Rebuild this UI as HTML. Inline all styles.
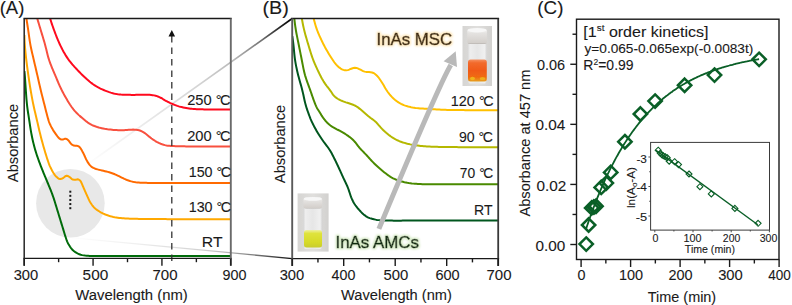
<!DOCTYPE html><html><head><meta charset="utf-8"><style>html,body{margin:0;padding:0;background:#fff;}svg{display:block;} text{font-family:"Liberation Sans", sans-serif;}</style></head><body>
<svg xmlns="http://www.w3.org/2000/svg" width="792" height="305" viewBox="0 0 792 305">
<defs>
<clipPath id="ca"><rect x="24.20" y="18.50" width="206.60" height="239.90"/></clipPath>
<clipPath id="cb"><rect x="292.20" y="18.50" width="206.00" height="240.10"/></clipPath>
<linearGradient id="gtop" gradientUnits="userSpaceOnUse" x1="85" y1="166" x2="292" y2="18.5"><stop offset="0" stop-color="#000" stop-opacity="0"/><stop offset="0.25" stop-color="#000" stop-opacity="0.07"/><stop offset="0.55" stop-color="#000" stop-opacity="0.17"/><stop offset="0.72" stop-color="#000" stop-opacity="0.28"/><stop offset="0.85" stop-color="#000" stop-opacity="0.55"/><stop offset="0.95" stop-color="#000" stop-opacity="0.88"/><stop offset="1" stop-color="#000" stop-opacity="1"/></linearGradient>
<linearGradient id="gbot" gradientUnits="userSpaceOnUse" x1="67" y1="237.5" x2="292" y2="258.6"><stop offset="0" stop-color="#000" stop-opacity="0"/><stop offset="0.3" stop-color="#000" stop-opacity="0.06"/><stop offset="0.6" stop-color="#000" stop-opacity="0.18"/><stop offset="0.72" stop-color="#000" stop-opacity="0.3"/><stop offset="0.87" stop-color="#000" stop-opacity="0.6"/><stop offset="1" stop-color="#000" stop-opacity="0.95"/></linearGradient>
<filter id="glowO" x="-10%" y="-30%" width="120%" height="160%"><feMorphology operator="dilate" radius="1.2" in="SourceAlpha" result="d"/><feGaussianBlur in="d" stdDeviation="1.0" result="b"/><feFlood flood-color="#fde6b8"/><feComposite in2="b" operator="in" result="g"/><feMerge><feMergeNode in="g"/><feMergeNode in="SourceGraphic"/></feMerge></filter>
<filter id="glowG" x="-10%" y="-30%" width="120%" height="160%"><feMorphology operator="dilate" radius="1.2" in="SourceAlpha" result="d"/><feGaussianBlur in="d" stdDeviation="1.0" result="b"/><feFlood flood-color="#d2e8c0"/><feComposite in2="b" operator="in" result="g"/><feMerge><feMergeNode in="g"/><feMergeNode in="SourceGraphic"/></feMerge></filter>
</defs>
<circle cx="70.4" cy="203.2" r="34.3" fill="#e8e8e8"/>
<line x1="85" y1="166" x2="292.2" y2="18.5" stroke="url(#gtop)" stroke-width="1.6"/>
<line x1="67.6" y1="237.4" x2="292.2" y2="258.6" stroke="url(#gbot)" stroke-width="1.35"/>
<g clip-path="url(#ca)" fill="none" stroke-width="2" stroke-linejoin="round">
<path d="M50.00,17.00 L49.94,17.51 L50.26,18.90 L50.68,20.31 L51.14,21.74 L51.60,23.16 L52.09,24.58 L52.58,26.00 L53.08,27.42 L53.59,28.84 L54.11,30.26 L54.64,31.67 L55.17,33.08 L55.70,34.48 L56.25,35.89 L56.80,37.29 L57.36,38.69 L57.94,40.08 L58.54,41.46 L59.15,42.84 L59.78,44.21 L60.42,45.57 L61.08,46.92 L61.75,48.27 L62.44,49.61 L63.15,50.94 L63.87,52.26 L64.62,53.56 L65.38,54.86 L66.18,56.14 L67.00,57.40 L67.84,58.64 L68.72,59.86 L69.63,61.06 L70.56,62.25 L71.51,63.41 L72.48,64.56 L73.47,65.69 L74.48,66.82 L75.50,67.93 L76.52,69.03 L77.56,70.12 L78.60,71.21 L79.65,72.29 L80.71,73.36 L81.77,74.43 L82.84,75.49 L83.92,76.54 L85.02,77.57 L86.12,78.59 L87.24,79.60 L88.38,80.58 L89.53,81.55 L90.71,82.50 L91.90,83.41 L93.11,84.30 L94.35,85.15 L95.62,85.96 L96.91,86.73 L98.22,87.46 L99.55,88.15 L100.91,88.80 L102.28,89.42 L103.66,90.01 L105.05,90.59 L106.45,91.14 L107.86,91.67 L109.28,92.17 L110.71,92.63 L112.15,93.05 L113.60,93.42 L115.07,93.74 L116.55,94.01 L118.03,94.23 L119.53,94.41 L121.02,94.55 L122.52,94.65 L124.03,94.73 L125.53,94.78 L127.04,94.82 L128.54,94.85 L130.05,94.87 L131.56,94.89 L133.06,94.89 L134.57,94.88 L136.07,94.87 L137.58,94.86 L139.09,94.83 L140.59,94.79 L142.10,94.76 L143.60,94.72 L145.11,94.70 L146.62,94.72 L148.12,94.75 L149.63,94.83 L151.13,94.97 L152.62,95.14 L154.11,95.37 L155.58,95.71 L157.01,96.16 L158.42,96.70 L159.79,97.32 L161.14,97.99 L162.45,98.74 L163.73,99.53 L165.02,100.31 L166.34,101.04 L167.67,101.74 L169.02,102.41 L170.38,103.05 L171.76,103.66 L173.14,104.25 L174.54,104.81 L175.95,105.36 L177.35,105.91 L178.78,106.38 L180.24,106.75 L181.71,107.08 L183.18,107.40 L184.66,107.70 L186.14,107.98 L187.62,108.24 L189.11,108.47 L190.60,108.67 L192.10,108.84 L193.60,108.97 L195.10,109.08 L196.60,109.16 L198.11,109.23 L199.61,109.28 L201.12,109.32 L202.63,109.35 L204.13,109.38 L205.64,109.41 L207.14,109.43 L208.65,109.45 L210.16,109.46 L211.66,109.47 L213.17,109.49 L214.68,109.50 L216.18,109.51 L217.69,109.52 L219.20,109.53 L220.70,109.54 L222.21,109.55 L223.71,109.56 L225.22,109.57 L226.73,109.57 L228.23,109.58 L229.74,109.59 L231.25,109.60 L232.00,109.60" stroke="#ff0a1e"/>
<path d="M37.00,17.00 L37.07,17.59 L37.43,18.99 L37.84,20.43 L38.27,21.87 L38.69,23.31 L39.12,24.75 L39.56,26.19 L39.99,27.64 L40.43,29.08 L40.86,30.52 L41.30,31.96 L41.74,33.41 L42.18,34.85 L42.62,36.29 L43.06,37.73 L43.49,39.18 L43.92,40.62 L44.34,42.07 L44.75,43.52 L45.14,44.97 L45.53,46.43 L45.90,47.89 L46.26,49.35 L46.61,50.82 L46.97,52.28 L47.33,53.75 L47.70,55.21 L48.09,56.66 L48.51,58.11 L48.95,59.55 L49.42,60.98 L49.92,62.40 L50.44,63.81 L50.99,65.21 L51.55,66.61 L52.12,68.01 L52.71,69.40 L53.29,70.78 L53.88,72.17 L54.47,73.56 L55.06,74.95 L55.64,76.34 L56.22,77.73 L56.80,79.12 L57.38,80.51 L57.97,81.90 L58.56,83.29 L59.16,84.67 L59.78,86.04 L60.41,87.41 L61.06,88.77 L61.72,90.12 L62.41,91.47 L63.10,92.80 L63.82,94.13 L64.54,95.45 L65.28,96.76 L66.03,98.07 L66.79,99.37 L67.56,100.67 L68.34,101.96 L69.14,103.23 L69.95,104.50 L70.79,105.75 L71.65,106.99 L72.54,108.20 L73.46,109.39 L74.42,110.54 L75.42,111.67 L76.45,112.77 L77.51,113.83 L78.60,114.87 L79.71,115.88 L80.85,116.87 L81.99,117.85 L83.14,118.82 L84.30,119.79 L85.47,120.74 L86.64,121.67 L87.84,122.57 L89.08,123.41 L90.36,124.18 L91.68,124.87 L93.04,125.49 L94.43,126.05 L95.84,126.55 L97.27,127.01 L98.72,127.44 L100.17,127.83 L101.63,128.17 L103.10,128.48 L104.58,128.76 L106.07,129.00 L107.56,129.23 L109.05,129.42 L110.55,129.60 L112.05,129.76 L113.55,129.90 L115.05,130.02 L116.55,130.11 L118.06,130.17 L119.56,130.20 L121.07,130.20 L122.57,130.18 L124.08,130.14 L125.58,130.06 L127.09,129.95 L128.59,129.82 L130.09,129.72 L131.60,129.65 L133.10,129.62 L134.61,129.65 L136.11,129.78 L137.60,129.98 L139.08,130.30 L140.51,130.76 L141.88,131.38 L143.20,132.11 L144.47,132.91 L145.71,133.77 L146.90,134.69 L148.06,135.66 L149.20,136.64 L150.37,137.59 L151.58,138.50 L152.80,139.37 L154.05,140.22 L155.32,141.02 L156.63,141.78 L157.96,142.49 L159.32,143.14 L160.70,143.73 L162.11,144.26 L163.54,144.73 L165.00,145.13 L166.47,145.44 L167.96,145.67 L169.46,145.81 L170.96,145.92 L172.47,146.02 L173.97,146.10 L175.48,146.17 L176.98,146.22 L178.49,146.26 L180.00,146.30 L181.51,146.33 L183.01,146.35 L184.52,146.37 L186.03,146.39 L187.53,146.41 L189.04,146.42 L190.55,146.44 L192.06,146.45 L193.56,146.46 L195.07,146.47 L196.58,146.48 L198.09,146.49 L199.59,146.50 L201.10,146.50 L202.61,146.50 L204.11,146.51 L205.62,146.51 L207.13,146.51 L208.64,146.51 L210.14,146.51 L211.65,146.51 L213.16,146.51 L214.67,146.51 L216.17,146.51 L217.68,146.51 L219.19,146.51 L220.70,146.51 L222.20,146.51 L223.71,146.51 L225.22,146.51 L226.72,146.50 L228.23,146.50 L229.74,146.50 L231.25,146.50 L232.00,146.50" stroke="#f8503f"/>
<path d="M26.30,17.00 L26.34,17.62 L26.53,19.08 L26.75,20.55 L26.98,22.03 L27.20,23.51 L27.43,25.00 L27.66,26.48 L27.88,27.97 L28.10,29.46 L28.32,30.95 L28.53,32.44 L28.74,33.92 L28.95,35.41 L29.16,36.90 L29.37,38.39 L29.59,39.88 L29.82,41.36 L30.07,42.85 L30.33,44.33 L30.60,45.81 L30.89,47.28 L31.20,48.75 L31.52,50.22 L31.85,51.69 L32.19,53.15 L32.53,54.62 L32.87,56.08 L33.22,57.55 L33.56,59.01 L33.91,60.47 L34.25,61.94 L34.59,63.40 L34.93,64.87 L35.28,66.33 L35.62,67.79 L35.96,69.26 L36.30,70.72 L36.64,72.19 L36.98,73.65 L37.32,75.12 L37.65,76.58 L37.98,78.05 L38.32,79.52 L38.64,80.98 L38.97,82.45 L39.31,83.92 L39.64,85.38 L39.98,86.85 L40.32,88.31 L40.66,89.78 L41.02,91.24 L41.37,92.70 L41.74,94.16 L42.10,95.62 L42.47,97.08 L42.84,98.53 L43.21,99.99 L43.59,101.45 L43.96,102.90 L44.33,104.36 L44.70,105.82 L45.07,107.28 L45.43,108.73 L45.80,110.19 L46.17,111.65 L46.54,113.11 L46.91,114.56 L47.30,116.02 L47.70,117.46 L48.13,118.90 L48.55,120.35 L49.00,121.78 L49.52,123.18 L50.13,124.56 L50.79,125.91 L51.48,127.24 L52.21,128.56 L52.96,129.86 L53.76,131.14 L54.60,132.38 L55.47,133.61 L56.36,134.82 L57.23,136.04 L58.14,137.24 L59.17,138.33 L60.40,139.17 L61.81,139.59 L63.26,139.39 L64.65,138.86 L66.08,138.79 L67.38,139.45 L68.49,140.46 L69.39,141.65 L70.26,142.88 L71.27,143.99 L72.41,144.95 L73.76,145.55 L75.24,145.66 L76.73,145.72 L78.17,146.11 L79.42,146.90 L80.38,148.04 L81.17,149.31 L81.93,150.61 L82.66,151.93 L83.37,153.25 L84.04,154.60 L84.66,155.97 L85.26,157.35 L85.88,158.72 L86.54,160.06 L87.27,161.38 L88.05,162.67 L88.89,163.91 L89.82,165.09 L90.87,166.17 L92.05,167.09 L93.35,167.84 L94.72,168.45 L96.13,168.97 L97.57,169.40 L99.02,169.78 L100.49,170.12 L101.95,170.46 L103.42,170.80 L104.88,171.16 L106.33,171.52 L107.79,171.90 L109.24,172.31 L110.67,172.74 L112.10,173.21 L113.50,173.72 L114.89,174.29 L116.26,174.90 L117.62,175.54 L118.96,176.20 L120.31,176.87 L121.65,177.54 L123.00,178.20 L124.36,178.85 L125.73,179.46 L127.11,180.03 L128.52,180.54 L129.94,180.99 L131.39,181.38 L132.85,181.71 L134.32,181.98 L135.80,182.21 L137.29,182.40 L138.78,182.54 L140.28,182.66 L141.78,182.74 L143.28,182.80 L144.79,182.84 L146.29,182.86 L147.79,182.88 L149.30,182.89 L150.80,182.90 L152.30,182.91 L153.81,182.91 L155.31,182.92 L156.81,182.92 L158.32,182.92 L159.82,182.93 L161.33,182.93 L162.83,182.93 L164.33,182.93 L165.84,182.93 L167.34,182.93 L168.84,182.93 L170.35,182.93 L171.85,182.93 L173.36,182.92 L174.86,182.92 L176.36,182.92 L177.87,182.92 L179.37,182.92 L180.87,182.92 L182.38,182.92 L183.88,182.91 L185.38,182.91 L186.89,182.91 L188.39,182.91 L189.90,182.91 L191.40,182.91 L192.90,182.90 L194.41,182.90 L195.91,182.90 L197.41,182.90 L198.92,182.90 L200.42,182.90 L201.93,182.90 L203.43,182.90 L204.93,182.90 L206.44,182.90 L207.94,182.90 L209.44,182.90 L210.95,182.90 L212.45,182.90 L213.96,182.90 L215.46,182.90 L216.96,182.90 L218.47,182.90 L219.97,182.90 L221.47,182.90 L222.98,182.90 L224.48,182.90 L225.99,182.90 L227.49,182.90 L228.99,182.90 L230.50,182.90 L232.00,182.90" stroke="#ff6a00"/>
<path d="M24.40,35.00 L24.42,35.75 L24.47,37.25 L24.51,38.76 L24.57,40.26 L24.64,41.76 L24.73,43.26 L24.83,44.76 L24.94,46.26 L25.06,47.76 L25.19,49.26 L25.33,50.76 L25.48,52.25 L25.63,53.75 L25.79,55.25 L25.95,56.74 L26.11,58.24 L26.28,59.73 L26.46,61.22 L26.64,62.72 L26.83,64.21 L27.02,65.70 L27.22,67.19 L27.42,68.68 L27.62,70.17 L27.83,71.66 L28.04,73.15 L28.25,74.64 L28.47,76.13 L28.68,77.62 L28.90,79.11 L29.12,80.59 L29.35,82.08 L29.57,83.57 L29.81,85.05 L30.04,86.54 L30.28,88.02 L30.53,89.51 L30.78,90.99 L31.04,92.47 L31.30,93.95 L31.56,95.43 L31.83,96.91 L32.11,98.39 L32.39,99.87 L32.68,101.34 L32.97,102.82 L33.28,104.29 L33.59,105.76 L33.91,107.23 L34.24,108.70 L34.57,110.17 L34.91,111.63 L35.26,113.09 L35.60,114.56 L35.95,116.02 L36.30,117.48 L36.64,118.95 L36.99,120.41 L37.33,121.88 L37.66,123.34 L38.00,124.81 L38.34,126.28 L38.68,127.74 L39.02,129.21 L39.36,130.67 L39.71,132.13 L40.07,133.59 L40.43,135.05 L40.80,136.51 L41.18,137.97 L41.56,139.42 L41.95,140.87 L42.34,142.32 L42.74,143.77 L43.15,145.22 L43.55,146.67 L43.97,148.12 L44.39,149.56 L44.81,151.00 L45.24,152.45 L45.68,153.88 L46.12,155.32 L46.57,156.76 L47.03,158.19 L47.50,159.62 L47.99,161.04 L48.47,162.46 L48.98,163.88 L49.52,165.28 L50.12,166.66 L50.79,168.00 L51.48,169.34 L52.17,170.68 L52.89,172.00 L53.65,173.29 L54.49,174.54 L55.40,175.73 L56.42,176.84 L57.54,177.84 L58.78,178.67 L60.18,179.10 L61.61,178.84 L62.93,178.14 L64.13,177.24 L65.27,176.28 L66.61,175.77 L68.02,176.08 L69.32,176.83 L70.46,177.80 L71.56,178.82 L72.84,179.57 L74.29,179.86 L75.77,179.74 L77.19,179.35 L78.61,179.51 L79.86,180.30 L80.79,181.46 L81.46,182.79 L82.05,184.18 L82.65,185.56 L83.23,186.94 L83.82,188.33 L84.41,189.71 L85.01,191.09 L85.62,192.46 L86.25,193.83 L86.87,195.20 L87.49,196.57 L88.10,197.95 L88.73,199.31 L89.39,200.66 L90.10,201.99 L90.87,203.28 L91.69,204.54 L92.56,205.77 L93.53,206.91 L94.59,207.97 L95.73,208.94 L96.93,209.84 L98.16,210.69 L99.41,211.51 L100.70,212.27 L102.02,212.98 L103.36,213.63 L104.74,214.23 L106.13,214.79 L107.54,215.30 L108.96,215.77 L110.40,216.19 L111.86,216.57 L113.32,216.91 L114.79,217.21 L116.27,217.47 L117.75,217.70 L119.24,217.90 L120.73,218.06 L122.23,218.20 L123.73,218.32 L125.23,218.43 L126.73,218.51 L128.23,218.59 L129.73,218.65 L131.24,218.70 L132.74,218.75 L134.24,218.79 L135.75,218.82 L137.25,218.85 L138.75,218.88 L140.26,218.90 L141.76,218.92 L143.27,218.95 L144.77,218.97 L146.27,218.99 L147.78,219.01 L149.28,219.03 L150.79,219.04 L152.29,219.05 L153.79,219.06 L155.30,219.07 L156.80,219.08 L158.31,219.09 L159.81,219.10 L161.31,219.10 L162.82,219.11 L164.32,219.12 L165.82,219.12 L167.33,219.13 L168.83,219.13 L170.34,219.14 L171.84,219.14 L173.34,219.15 L174.85,219.15 L176.35,219.16 L177.86,219.16 L179.36,219.16 L180.86,219.17 L182.37,219.17 L183.87,219.18 L185.38,219.18 L186.88,219.19 L188.38,219.19 L189.89,219.19 L191.39,219.20 L192.90,219.20 L194.40,219.21 L195.90,219.21 L197.41,219.21 L198.91,219.22 L200.42,219.22 L201.92,219.22 L203.42,219.23 L204.93,219.23 L206.43,219.24 L207.94,219.24 L209.44,219.24 L210.94,219.25 L212.45,219.25 L213.95,219.25 L215.46,219.26 L216.96,219.26 L218.46,219.27 L219.97,219.27 L221.47,219.27 L222.98,219.28 L224.48,219.28 L225.98,219.28 L227.49,219.29 L228.99,219.29 L230.50,219.30 L232.00,219.30" stroke="#ffa800"/>
<path d="M24.40,71.00 L24.49,71.75 L24.64,73.25 L24.76,74.75 L24.87,76.25 L24.98,77.75 L25.08,79.25 L25.18,80.76 L25.28,82.26 L25.38,83.76 L25.48,85.26 L25.58,86.77 L25.68,88.27 L25.79,89.77 L25.89,91.27 L26.00,92.78 L26.10,94.28 L26.21,95.78 L26.32,97.28 L26.44,98.78 L26.57,100.28 L26.71,101.78 L26.85,103.28 L27.02,104.78 L27.19,106.27 L27.38,107.77 L27.58,109.26 L27.78,110.75 L28.00,112.24 L28.23,113.73 L28.45,115.22 L28.68,116.71 L28.91,118.20 L29.14,119.68 L29.37,121.17 L29.59,122.66 L29.82,124.15 L30.04,125.64 L30.27,127.13 L30.51,128.62 L30.75,130.10 L31.00,131.59 L31.27,133.07 L31.55,134.55 L31.84,136.02 L32.14,137.50 L32.46,138.97 L32.78,140.44 L33.12,141.91 L33.47,143.37 L33.84,144.83 L34.21,146.29 L34.61,147.75 L35.01,149.19 L35.44,150.64 L35.88,152.08 L36.33,153.51 L36.80,154.94 L37.28,156.37 L37.78,157.79 L38.28,159.21 L38.79,160.63 L39.31,162.04 L39.84,163.45 L40.37,164.86 L40.91,166.27 L41.46,167.67 L42.01,169.07 L42.58,170.47 L43.14,171.86 L43.71,173.26 L44.29,174.65 L44.86,176.04 L45.44,177.43 L46.02,178.82 L46.59,180.21 L47.17,181.60 L47.75,182.99 L48.33,184.38 L48.91,185.77 L49.48,187.17 L50.06,188.56 L50.62,189.95 L51.17,191.35 L51.72,192.76 L52.24,194.17 L52.75,195.59 L53.25,197.01 L53.73,198.43 L54.20,199.87 L54.65,201.30 L55.10,202.74 L55.54,204.18 L55.98,205.62 L56.41,207.06 L56.85,208.50 L57.29,209.94 L57.73,211.38 L58.17,212.82 L58.61,214.26 L59.05,215.70 L59.49,217.14 L59.93,218.58 L60.37,220.02 L60.81,221.46 L61.25,222.90 L61.70,224.34 L62.14,225.78 L62.58,227.22 L63.02,228.66 L63.46,230.10 L63.89,231.54 L64.33,232.99 L64.77,234.43 L65.22,235.86 L65.68,237.30 L66.16,238.73 L66.66,240.15 L67.21,241.55 L67.83,242.92 L68.55,244.24 L69.33,245.53 L70.13,246.80 L71.00,248.03 L71.95,249.20 L72.99,250.29 L74.11,251.29 L75.33,252.17 L76.62,252.95 L77.95,253.64 L79.33,254.24 L80.75,254.73 L82.21,255.11 L83.69,255.37 L85.19,255.56 L86.69,255.70 L88.19,255.81 L89.69,255.90 L91.20,255.97 L92.70,256.03 L94.21,256.07 L95.71,256.08 L97.22,256.09 L98.72,256.09 L100.23,256.10 L101.73,256.10 L103.24,256.10 L104.75,256.11 L106.25,256.11 L107.76,256.11 L109.26,256.11 L110.77,256.11 L112.28,256.11 L113.78,256.11 L115.29,256.11 L116.79,256.11 L118.30,256.11 L119.81,256.11 L121.31,256.11 L122.82,256.11 L124.32,256.11 L125.83,256.11 L127.34,256.11 L128.84,256.11 L130.35,256.11 L131.85,256.11 L133.36,256.11 L134.87,256.11 L136.37,256.11 L137.88,256.10 L139.38,256.10 L140.89,256.10 L142.40,256.10 L143.90,256.10 L145.41,256.10 L146.91,256.10 L148.42,256.10 L149.93,256.09 L151.43,256.09 L152.94,256.09 L154.44,256.09 L155.95,256.09 L157.45,256.09 L158.96,256.09 L160.47,256.08 L161.97,256.08 L163.48,256.08 L164.98,256.08 L166.49,256.08 L168.00,256.08 L169.50,256.07 L171.01,256.07 L172.51,256.07 L174.02,256.07 L175.53,256.07 L177.03,256.07 L178.54,256.06 L180.04,256.06 L181.55,256.06 L183.06,256.06 L184.56,256.06 L186.07,256.06 L187.57,256.05 L189.08,256.05 L190.59,256.05 L192.09,256.05 L193.60,256.05 L195.10,256.04 L196.61,256.04 L198.12,256.04 L199.62,256.04 L201.13,256.04 L202.63,256.04 L204.14,256.03 L205.65,256.03 L207.15,256.03 L208.66,256.03 L210.16,256.03 L211.67,256.02 L213.18,256.02 L214.68,256.02 L216.19,256.02 L217.69,256.02 L219.20,256.02 L220.71,256.01 L222.21,256.01 L223.72,256.01 L225.22,256.01 L226.73,256.01 L228.24,256.00 L229.74,256.00 L231.25,256.00 L232.00,256.00" stroke="#006b0a"/>
</g>
<rect x="69.3" y="190.70" width="2.0" height="2.0" fill="#1a1a1a"/>
<rect x="69.3" y="194.82" width="2.0" height="2.0" fill="#1a1a1a"/>
<rect x="69.3" y="198.94" width="2.0" height="2.0" fill="#1a1a1a"/>
<rect x="69.3" y="203.06" width="2.0" height="2.0" fill="#1a1a1a"/>
<rect x="69.3" y="207.18" width="2.0" height="2.0" fill="#1a1a1a"/>
<line x1="171.8" y1="36" x2="171.8" y2="262.5" stroke="#333" stroke-width="1.3" stroke-dasharray="6.5 5"/>
<path d="M171.8,30 L175.1,36.6 L168.5,36.6 Z" fill="#111"/>
<path d="M23.50,18.50 H231.70 M23.50,258.40 H231.70" stroke="#1a1a1a" stroke-width="1.40" fill="none"/>
<line x1="24.20" y1="18.50" x2="24.20" y2="265.70" stroke="#262626" stroke-width="1.5"/>
<line x1="230.80" y1="18.50" x2="230.80" y2="265.70" stroke="#6a6a6a" stroke-width="1.9"/>
<line x1="24.20" y1="258.40" x2="24.20" y2="265.70" stroke="#1a1a1a" stroke-width="1.40"/>
<line x1="58.63" y1="258.40" x2="58.63" y2="262.20" stroke="#1a1a1a" stroke-width="1.40"/>
<line x1="93.07" y1="258.40" x2="93.07" y2="265.70" stroke="#1a1a1a" stroke-width="1.40"/>
<line x1="127.50" y1="258.40" x2="127.50" y2="262.20" stroke="#1a1a1a" stroke-width="1.40"/>
<line x1="161.93" y1="258.40" x2="161.93" y2="265.70" stroke="#1a1a1a" stroke-width="1.40"/>
<line x1="196.37" y1="258.40" x2="196.37" y2="262.20" stroke="#1a1a1a" stroke-width="1.40"/>
<line x1="230.80" y1="258.40" x2="230.80" y2="265.70" stroke="#1a1a1a" stroke-width="1.40"/>
<g clip-path="url(#cb)" fill="none" stroke-width="2" stroke-linejoin="round">
<path d="M313.50,17.00 L313.51,17.57 L313.81,18.98 L314.16,20.42 L314.54,21.87 L314.93,23.32 L315.35,24.76 L315.79,26.20 L316.26,27.63 L316.75,29.05 L317.27,30.47 L317.81,31.87 L318.38,33.26 L318.97,34.65 L319.58,36.03 L320.19,37.40 L320.82,38.77 L321.46,40.13 L322.11,41.49 L322.77,42.84 L323.44,44.19 L324.13,45.53 L324.83,46.87 L325.54,48.19 L326.28,49.50 L327.03,50.81 L327.79,52.11 L328.57,53.40 L329.36,54.68 L330.16,55.95 L330.97,57.22 L331.79,58.48 L332.62,59.74 L333.45,61.00 L334.28,62.25 L335.20,63.44 L336.19,64.57 L337.23,65.66 L338.33,66.69 L339.47,67.67 L340.68,68.57 L341.98,69.32 L343.38,69.88 L344.83,70.25 L346.32,70.37 L347.79,70.12 L349.19,69.57 L350.56,68.96 L351.97,68.44 L353.41,67.99 L354.89,67.76 L356.36,67.92 L357.78,68.42 L359.15,69.04 L360.49,69.71 L361.81,70.44 L363.15,71.13 L364.56,71.63 L366.04,71.89 L367.54,71.98 L369.05,72.07 L370.54,72.23 L372.03,72.46 L373.44,72.96 L374.71,73.75 L375.89,74.68 L377.00,75.71 L378.02,76.81 L378.94,78.00 L379.79,79.24 L380.63,80.49 L381.46,81.75 L382.27,83.02 L383.07,84.30 L383.84,85.59 L384.58,86.90 L385.32,88.21 L386.10,89.50 L386.93,90.76 L387.77,92.01 L388.66,93.22 L389.59,94.40 L390.58,95.53 L391.62,96.62 L392.68,97.68 L393.77,98.72 L394.89,99.71 L396.05,100.66 L397.26,101.55 L398.50,102.38 L399.79,103.14 L401.11,103.85 L402.46,104.49 L403.84,105.07 L405.25,105.59 L406.67,106.06 L408.12,106.48 L409.57,106.85 L411.04,107.18 L412.51,107.47 L414.00,107.72 L415.48,107.94 L416.98,108.12 L418.47,108.28 L419.97,108.41 L421.47,108.53 L422.98,108.62 L424.48,108.71 L425.98,108.79 L427.49,108.86 L428.99,108.95 L430.50,109.04 L432.00,109.13 L433.50,109.24 L435.00,109.34 L436.51,109.44 L438.01,109.54 L439.51,109.62 L441.02,109.69 L442.52,109.75 L444.03,109.80 L445.53,109.85 L447.04,109.89 L448.54,109.93 L450.05,109.96 L451.56,109.99 L453.06,110.01 L454.57,110.04 L456.07,110.05 L457.58,110.07 L459.09,110.09 L460.59,110.10 L462.10,110.11 L463.60,110.12 L465.11,110.13 L466.62,110.14 L468.12,110.14 L469.63,110.15 L471.14,110.15 L472.64,110.16 L474.15,110.16 L475.65,110.16 L477.16,110.17 L478.67,110.17 L480.17,110.17 L481.68,110.18 L483.18,110.18 L484.69,110.18 L486.20,110.18 L487.70,110.18 L489.21,110.19 L490.72,110.19 L492.22,110.19 L493.73,110.19 L495.23,110.19 L496.74,110.20 L498.25,110.20 L499.00,110.20" stroke="#ffc000"/>
<path d="M301.70,17.00 L301.73,17.61 L301.95,19.05 L302.21,20.52 L302.47,22.00 L302.75,23.48 L303.04,24.95 L303.35,26.43 L303.67,27.90 L304.00,29.36 L304.36,30.83 L304.73,32.29 L305.12,33.74 L305.52,35.20 L305.93,36.64 L306.34,38.09 L306.77,39.54 L307.19,40.98 L307.62,42.43 L308.06,43.87 L308.49,45.31 L308.92,46.76 L309.36,48.20 L309.79,49.64 L310.23,51.08 L310.68,52.52 L311.14,53.95 L311.61,55.38 L312.10,56.81 L312.60,58.23 L313.13,59.64 L313.68,61.04 L314.24,62.44 L314.82,63.82 L315.42,65.21 L316.03,66.58 L316.66,67.95 L317.29,69.32 L317.93,70.68 L318.58,72.04 L319.24,73.40 L319.91,74.74 L320.59,76.09 L321.30,77.42 L322.02,78.74 L322.77,80.04 L323.55,81.33 L324.37,82.59 L325.21,83.83 L326.09,85.06 L326.97,86.27 L327.89,87.47 L328.83,88.65 L329.76,89.83 L330.64,91.05 L331.46,92.31 L332.29,93.57 L333.17,94.80 L334.15,95.93 L335.25,96.96 L336.43,97.89 L337.67,98.74 L338.97,99.51 L340.31,100.20 L341.69,100.80 L343.10,101.34 L344.51,101.85 L345.93,102.35 L347.37,102.81 L348.81,103.25 L350.24,103.72 L351.66,104.20 L353.08,104.71 L354.47,105.30 L355.80,106.00 L357.07,106.80 L358.30,107.67 L359.50,108.58 L360.69,109.52 L361.84,110.48 L362.98,111.47 L364.11,112.47 L365.24,113.46 L366.38,114.44 L367.53,115.42 L368.68,116.39 L369.84,117.35 L371.03,118.28 L372.24,119.17 L373.47,120.05 L374.68,120.95 L375.82,121.92 L376.85,123.02 L377.82,124.17 L378.81,125.30 L379.81,126.43 L380.81,127.55 L381.83,128.67 L382.87,129.75 L383.95,130.81 L385.05,131.83 L386.19,132.82 L387.36,133.77 L388.53,134.71 L389.73,135.61 L390.95,136.49 L392.20,137.33 L393.47,138.13 L394.76,138.89 L396.08,139.61 L397.42,140.28 L398.79,140.91 L400.17,141.48 L401.58,142.00 L403.01,142.48 L404.45,142.91 L405.90,143.32 L407.35,143.69 L408.82,144.03 L410.29,144.36 L411.76,144.65 L413.25,144.93 L414.73,145.18 L416.22,145.40 L417.71,145.61 L419.20,145.79 L420.70,145.96 L422.20,146.11 L423.70,146.24 L425.20,146.36 L426.70,146.46 L428.21,146.55 L429.71,146.62 L431.22,146.68 L432.72,146.74 L434.23,146.78 L435.73,146.83 L437.24,146.87 L438.74,146.91 L440.25,146.95 L441.76,146.99 L443.26,147.02 L444.77,147.04 L446.27,147.06 L447.78,147.08 L449.29,147.09 L450.79,147.10 L452.30,147.11 L453.81,147.11 L455.31,147.12 L456.82,147.12 L458.33,147.13 L459.83,147.13 L461.34,147.14 L462.85,147.14 L464.35,147.14 L465.86,147.15 L467.36,147.15 L468.87,147.15 L470.38,147.15 L471.88,147.16 L473.39,147.16 L474.90,147.16 L476.40,147.16 L477.91,147.17 L479.42,147.17 L480.92,147.17 L482.43,147.17 L483.94,147.18 L485.44,147.18 L486.95,147.18 L488.45,147.18 L489.96,147.19 L491.47,147.19 L492.97,147.19 L494.48,147.19 L495.99,147.19 L497.49,147.20 L499.00,147.20" stroke="#b5b800"/>
<path d="M294.20,17.00 L294.24,17.63 L294.40,19.09 L294.56,20.58 L294.74,22.06 L294.92,23.55 L295.11,25.04 L295.32,26.53 L295.54,28.02 L295.77,29.51 L296.02,30.99 L296.28,32.47 L296.56,33.95 L296.84,35.43 L297.14,36.90 L297.44,38.37 L297.74,39.85 L298.04,41.32 L298.34,42.80 L298.64,44.27 L298.94,45.74 L299.24,47.22 L299.53,48.69 L299.83,50.17 L300.12,51.64 L300.42,53.12 L300.71,54.59 L301.01,56.07 L301.30,57.54 L301.59,59.02 L301.88,60.50 L302.17,61.97 L302.45,63.45 L302.73,64.93 L303.02,66.40 L303.31,67.88 L303.62,69.35 L303.94,70.82 L304.28,72.28 L304.65,73.74 L305.04,75.19 L305.47,76.63 L305.91,78.07 L306.38,79.50 L306.87,80.92 L307.38,82.33 L307.89,83.75 L308.41,85.16 L308.93,86.57 L309.45,87.98 L309.96,89.40 L310.46,90.82 L310.96,92.24 L311.45,93.66 L311.94,95.08 L312.43,96.50 L312.92,97.92 L313.42,99.34 L313.94,100.75 L314.47,102.16 L315.01,103.56 L315.57,104.96 L316.17,106.33 L316.82,107.68 L317.56,108.99 L318.38,110.26 L319.20,111.52 L319.98,112.80 L320.76,114.09 L321.55,115.37 L322.37,116.63 L323.23,117.86 L324.13,119.07 L325.05,120.26 L326.01,121.41 L327.03,122.53 L328.10,123.58 L329.22,124.58 L330.41,125.50 L331.64,126.36 L332.92,127.15 L334.23,127.89 L335.55,128.62 L336.88,129.32 L338.23,129.99 L339.57,130.66 L340.90,131.37 L342.21,132.11 L343.51,132.86 L344.79,133.65 L346.05,134.47 L347.30,135.31 L348.53,136.18 L349.73,137.08 L350.91,138.02 L352.06,138.98 L353.16,140.00 L354.20,141.09 L355.18,142.24 L356.11,143.42 L357.02,144.61 L357.93,145.81 L358.86,147.00 L359.81,148.16 L360.82,149.27 L361.87,150.35 L362.93,151.42 L363.97,152.50 L365.01,153.59 L366.04,154.69 L367.06,155.79 L368.08,156.90 L369.09,158.01 L370.10,159.12 L371.12,160.23 L372.14,161.33 L373.18,162.42 L374.23,163.50 L375.30,164.56 L376.38,165.59 L377.49,166.61 L378.61,167.61 L379.75,168.59 L380.90,169.56 L382.06,170.52 L383.22,171.47 L384.40,172.41 L385.59,173.33 L386.79,174.24 L388.00,175.12 L389.24,175.97 L390.49,176.79 L391.78,177.56 L393.09,178.28 L394.43,178.94 L395.80,179.54 L397.20,180.09 L398.61,180.58 L400.05,181.03 L401.49,181.44 L402.94,181.83 L404.40,182.19 L405.87,182.51 L407.34,182.81 L408.82,183.07 L410.31,183.29 L411.80,183.48 L413.29,183.63 L414.79,183.76 L416.29,183.87 L417.79,183.96 L419.29,184.04 L420.79,184.12 L422.29,184.17 L423.79,184.22 L425.29,184.25 L426.80,184.27 L428.30,184.29 L429.80,184.29 L431.31,184.30 L432.81,184.30 L434.32,184.31 L435.82,184.31 L437.33,184.31 L438.83,184.31 L440.33,184.31 L441.84,184.31 L443.34,184.31 L444.85,184.31 L446.35,184.31 L447.86,184.31 L449.36,184.31 L450.86,184.31 L452.37,184.31 L453.87,184.31 L455.38,184.31 L456.88,184.31 L458.39,184.31 L459.89,184.31 L461.39,184.31 L462.90,184.31 L464.40,184.31 L465.91,184.31 L467.41,184.31 L468.91,184.31 L470.42,184.31 L471.92,184.31 L473.43,184.31 L474.93,184.31 L476.44,184.31 L477.94,184.31 L479.44,184.31 L480.95,184.31 L482.45,184.31 L483.96,184.31 L485.46,184.30 L486.97,184.30 L488.47,184.30 L489.97,184.30 L491.48,184.30 L492.98,184.30 L494.49,184.30 L495.99,184.30 L497.50,184.30 L499.00,184.30" stroke="#4a8a00"/>
<path d="M292.30,36.00 L292.39,36.75 L292.58,38.24 L292.79,39.73 L292.99,41.23 L293.18,42.72 L293.36,44.21 L293.52,45.71 L293.68,47.21 L293.82,48.71 L293.96,50.21 L294.10,51.71 L294.24,53.20 L294.40,54.70 L294.56,56.20 L294.74,57.69 L294.94,59.19 L295.16,60.67 L295.40,62.16 L295.66,63.64 L295.94,65.12 L296.23,66.60 L296.54,68.07 L296.85,69.55 L297.18,71.02 L297.53,72.48 L297.88,73.95 L298.24,75.41 L298.62,76.86 L299.01,78.32 L299.41,79.77 L299.82,81.22 L300.24,82.67 L300.65,84.11 L301.06,85.56 L301.46,87.01 L301.85,88.47 L302.22,89.93 L302.58,91.39 L302.92,92.86 L303.25,94.33 L303.57,95.80 L303.88,97.27 L304.20,98.74 L304.52,100.21 L304.86,101.68 L305.21,103.14 L305.59,104.60 L306.00,106.05 L306.44,107.49 L306.90,108.92 L307.39,110.34 L307.89,111.76 L308.40,113.18 L308.92,114.59 L309.44,116.00 L309.97,117.41 L310.52,118.81 L311.10,120.19 L311.72,121.56 L312.37,122.92 L313.04,124.27 L313.73,125.60 L314.43,126.94 L315.14,128.26 L315.87,129.58 L316.62,130.89 L317.38,132.18 L318.16,133.47 L318.96,134.75 L319.77,136.02 L320.59,137.28 L321.42,138.54 L322.26,139.78 L323.13,141.01 L324.01,142.23 L324.91,143.44 L325.83,144.63 L326.75,145.81 L327.66,147.01 L328.54,148.23 L329.38,149.47 L330.18,150.74 L330.94,152.03 L331.68,153.34 L332.39,154.67 L333.08,156.01 L333.76,157.35 L334.43,158.70 L335.10,160.05 L335.76,161.40 L336.41,162.76 L337.06,164.12 L337.71,165.48 L338.35,166.84 L338.98,168.21 L339.61,169.58 L340.23,170.95 L340.85,172.32 L341.46,173.69 L342.08,175.07 L342.70,176.44 L343.33,177.81 L343.97,179.17 L344.61,180.53 L345.27,181.89 L345.92,183.24 L346.56,184.60 L347.18,185.97 L347.75,187.36 L348.29,188.76 L348.79,190.18 L349.27,191.61 L349.73,193.04 L350.20,194.47 L350.69,195.89 L351.22,197.30 L351.78,198.69 L352.39,200.06 L353.05,201.40 L353.77,202.71 L354.55,203.99 L355.39,205.23 L356.28,206.44 L357.21,207.61 L358.17,208.77 L359.16,209.90 L360.18,211.01 L361.21,212.11 L362.28,213.17 L363.39,214.19 L364.54,215.16 L365.74,216.07 L367.00,216.89 L368.33,217.58 L369.74,218.10 L371.19,218.52 L372.64,218.91 L374.10,219.30 L375.56,219.64 L377.04,219.92 L378.54,220.12 L380.03,220.29 L381.53,220.41 L383.04,220.48 L384.54,220.52 L386.05,220.55 L387.55,220.57 L389.06,220.59 L390.57,220.61 L392.07,220.62 L393.58,220.63 L395.08,220.63 L396.59,220.63 L398.10,220.63 L399.60,220.63 L401.11,220.63 L402.61,220.62 L404.12,220.62 L405.63,220.62 L407.13,220.61 L408.64,220.61 L410.14,220.61 L411.65,220.61 L413.16,220.61 L414.66,220.60 L416.17,220.60 L417.67,220.60 L419.18,220.60 L420.69,220.60 L422.19,220.60 L423.70,220.60 L425.20,220.60 L426.71,220.60 L428.22,220.60 L429.72,220.60 L431.23,220.60 L432.73,220.60 L434.24,220.60 L435.75,220.60 L437.25,220.60 L438.76,220.60 L440.26,220.60 L441.77,220.60 L443.28,220.60 L444.78,220.60 L446.29,220.60 L447.80,220.60 L449.30,220.60 L450.81,220.60 L452.31,220.60 L453.82,220.60 L455.33,220.60 L456.83,220.60 L458.34,220.60 L459.84,220.60 L461.35,220.60 L462.86,220.60 L464.36,220.60 L465.87,220.60 L467.37,220.60 L468.88,220.60 L470.39,220.60 L471.89,220.60 L473.40,220.60 L474.90,220.60 L476.41,220.60 L477.92,220.60 L479.42,220.60 L480.93,220.60 L482.43,220.60 L483.94,220.60 L485.45,220.60 L486.95,220.60 L488.46,220.60 L489.96,220.60 L491.47,220.60 L492.98,220.60 L494.48,220.60 L495.99,220.60 L497.49,220.60 L499.00,220.60" stroke="#00561e"/>
</g>
<path d="M291.30,18.50 H499.10 M291.30,258.60 H499.10" stroke="#1a1a1a" stroke-width="1.40" fill="none"/>
<line x1="292.20" y1="18.50" x2="292.20" y2="265.90" stroke="#5a5a5a" stroke-width="1.9"/>
<line x1="498.20" y1="18.50" x2="498.20" y2="265.90" stroke="#383838" stroke-width="1.8"/>
<line x1="292.20" y1="258.60" x2="292.20" y2="265.90" stroke="#1a1a1a" stroke-width="1.40"/>
<line x1="317.95" y1="258.60" x2="317.95" y2="262.40" stroke="#1a1a1a" stroke-width="1.40"/>
<line x1="343.70" y1="258.60" x2="343.70" y2="265.90" stroke="#1a1a1a" stroke-width="1.40"/>
<line x1="369.45" y1="258.60" x2="369.45" y2="262.40" stroke="#1a1a1a" stroke-width="1.40"/>
<line x1="395.20" y1="258.60" x2="395.20" y2="265.90" stroke="#1a1a1a" stroke-width="1.40"/>
<line x1="420.95" y1="258.60" x2="420.95" y2="262.40" stroke="#1a1a1a" stroke-width="1.40"/>
<line x1="446.70" y1="258.60" x2="446.70" y2="265.90" stroke="#1a1a1a" stroke-width="1.40"/>
<line x1="472.45" y1="258.60" x2="472.45" y2="262.40" stroke="#1a1a1a" stroke-width="1.40"/>
<line x1="498.20" y1="258.60" x2="498.20" y2="265.90" stroke="#1a1a1a" stroke-width="1.40"/>
<path d="M378.9,228.9 Q440,82.5 450.8,65.0" stroke="#b9b9b9" stroke-width="5.0" fill="none" stroke-linecap="butt"/>
<path d="M455.7,51.2 L457.0,66.9 L443.6,61.3 Z" fill="#b9b9b9"/>
<defs><linearGradient id="vbg" x1="0" y1="0" x2="1" y2="0"><stop offset="0" stop-color="#d6d5d3"/><stop offset="0.5" stop-color="#e0dfdd"/><stop offset="1" stop-color="#d2d1cf"/></linearGradient><linearGradient id="vglass" x1="0" y1="0" x2="1" y2="0"><stop offset="0" stop-color="#d6d6d6"/><stop offset="0.12" stop-color="#eeeeee"/><stop offset="0.5" stop-color="#e6e6e6"/><stop offset="0.88" stop-color="#f0f0f0"/><stop offset="1" stop-color="#d2d2d2"/></linearGradient><linearGradient id="vcap" x1="0" y1="0" x2="0" y2="1"><stop offset="0" stop-color="#f6f6f6"/><stop offset="0.3" stop-color="#e4e2e0"/><stop offset="0.9" stop-color="#d4d0cc"/><stop offset="1" stop-color="#b8b4b0"/></linearGradient><linearGradient id="vorg" x1="0" y1="0" x2="0" y2="1"><stop offset="0" stop-color="#f59060"/><stop offset="0.15" stop-color="#f26a2c"/><stop offset="0.5" stop-color="#f05a18"/><stop offset="0.8" stop-color="#f06a10"/><stop offset="1" stop-color="#e8a020"/></linearGradient><linearGradient id="vyel" x1="0" y1="0" x2="0" y2="1"><stop offset="0" stop-color="#eef0a0"/><stop offset="0.2" stop-color="#dfe33c"/><stop offset="0.7" stop-color="#d6da28"/><stop offset="1" stop-color="#c8cc30"/></linearGradient><filter id="soft" x="-5%" y="-5%" width="110%" height="110%"><feGaussianBlur stdDeviation="0.45"/></filter></defs>
<g filter="url(#soft)">
<rect x="462.5" y="26" width="29.5" height="60" fill="url(#vbg)"/>
<rect x="467.6" y="43.5" width="19.4" height="40" rx="2.2" fill="url(#vglass)"/>
<rect x="467.3" y="28.8" width="19.6" height="15.2" rx="2.5" fill="url(#vcap)"/>
<ellipse cx="477.1" cy="30.3" rx="9.4" ry="2.2" fill="#f7f7f7"/>
<rect x="468" y="59.6" width="18.8" height="21.8" rx="2.5" fill="url(#vorg)"/>
<ellipse cx="472.5" cy="78.5" rx="2.5" ry="1.8" fill="#f0c020" opacity="0.8"/>
<ellipse cx="482.5" cy="78.5" rx="2.8" ry="1.6" fill="#f0c020" opacity="0.7"/>
</g>
<g filter="url(#soft)">
<rect x="297.6" y="193.4" width="31" height="58.2" fill="url(#vbg)"/>
<rect x="303.2" y="207.5" width="19.2" height="41.5" rx="2.2" fill="url(#vglass)"/>
<rect x="303.4" y="197.4" width="18.8" height="11.2" rx="2.5" fill="url(#vcap)"/>
<ellipse cx="312.8" cy="198.9" rx="9" ry="1.9" fill="#f7f7f7"/>
<rect x="304.0" y="230.0" width="18.0" height="17.6" rx="2.5" fill="url(#vyel)"/>
</g>
<rect x="576.50" y="19.20" width="202.50" height="240.30" fill="none" stroke="#1a1a1a" stroke-width="1.40"/>
<line x1="581.10" y1="259.50" x2="581.10" y2="267.00" stroke="#1a1a1a" stroke-width="1.40"/>
<line x1="605.85" y1="259.50" x2="605.85" y2="263.50" stroke="#1a1a1a" stroke-width="1.40"/>
<line x1="630.60" y1="259.50" x2="630.60" y2="267.00" stroke="#1a1a1a" stroke-width="1.40"/>
<line x1="655.35" y1="259.50" x2="655.35" y2="263.50" stroke="#1a1a1a" stroke-width="1.40"/>
<line x1="680.10" y1="259.50" x2="680.10" y2="267.00" stroke="#1a1a1a" stroke-width="1.40"/>
<line x1="704.85" y1="259.50" x2="704.85" y2="263.50" stroke="#1a1a1a" stroke-width="1.40"/>
<line x1="729.60" y1="259.50" x2="729.60" y2="267.00" stroke="#1a1a1a" stroke-width="1.40"/>
<line x1="754.35" y1="259.50" x2="754.35" y2="263.50" stroke="#1a1a1a" stroke-width="1.40"/>
<line x1="779.10" y1="259.50" x2="779.10" y2="267.00" stroke="#1a1a1a" stroke-width="1.40"/>
<line x1="570.30" y1="244.50" x2="576.50" y2="244.50" stroke="#1a1a1a" stroke-width="1.40"/>
<line x1="572.50" y1="214.46" x2="576.50" y2="214.46" stroke="#1a1a1a" stroke-width="1.40"/>
<line x1="570.30" y1="184.42" x2="576.50" y2="184.42" stroke="#1a1a1a" stroke-width="1.40"/>
<line x1="572.50" y1="154.38" x2="576.50" y2="154.38" stroke="#1a1a1a" stroke-width="1.40"/>
<line x1="570.30" y1="124.34" x2="576.50" y2="124.34" stroke="#1a1a1a" stroke-width="1.40"/>
<line x1="572.50" y1="94.30" x2="576.50" y2="94.30" stroke="#1a1a1a" stroke-width="1.40"/>
<line x1="570.30" y1="64.26" x2="576.50" y2="64.26" stroke="#1a1a1a" stroke-width="1.40"/>
<line x1="572.50" y1="34.22" x2="576.50" y2="34.22" stroke="#1a1a1a" stroke-width="1.40"/>
<path d="M585.80,229.70 C586.01,229.08 586.63,227.21 587.04,225.99 C587.45,224.77 587.87,223.56 588.28,222.36 C588.69,221.16 589.10,219.98 589.51,218.80 C589.93,217.63 590.34,216.47 590.75,215.32 C591.17,214.17 591.58,213.04 591.99,211.91 C592.40,210.79 592.82,209.67 593.23,208.57 C593.64,207.47 594.05,206.38 594.47,205.30 C594.88,204.22 595.29,203.15 595.70,202.09 C596.12,201.04 596.53,199.99 596.94,198.95 C597.35,197.92 597.76,196.89 598.18,195.88 C598.59,194.87 599.00,193.86 599.42,192.87 C599.83,191.88 600.24,190.89 600.65,189.92 C601.07,188.95 601.48,187.98 601.89,187.03 C602.30,186.08 602.72,185.13 603.13,184.20 C603.54,183.27 603.95,182.34 604.37,181.43 C604.78,180.51 605.19,179.61 605.60,178.71 C606.02,177.82 606.43,176.93 606.84,176.06 C607.25,175.18 607.66,174.31 608.08,173.45 C608.49,172.59 608.90,171.74 609.32,170.90 C609.73,170.06 610.14,169.23 610.55,168.40 C610.97,167.58 611.38,166.76 611.79,165.95 C612.20,165.15 612.62,164.35 613.03,163.56 C613.44,162.77 613.85,161.98 614.26,161.21 C614.68,160.44 615.09,159.67 615.50,158.91 C615.92,158.15 616.33,157.40 616.74,156.66 C617.15,155.92 617.56,155.18 617.98,154.45 C618.39,153.72 618.80,153.00 619.22,152.29 C619.63,151.58 620.04,150.87 620.45,150.18 C620.87,149.48 621.28,148.79 621.69,148.10 C622.10,147.42 622.51,146.74 622.93,146.07 C623.34,145.40 623.75,144.74 624.16,144.08 C624.58,143.43 624.99,142.78 625.40,142.14 C625.82,141.49 626.23,140.86 626.64,140.23 C627.05,139.60 627.47,138.98 627.88,138.36 C628.29,137.74 628.70,137.13 629.12,136.53 C629.53,135.93 629.94,135.33 630.35,134.74 C630.76,134.15 631.18,133.56 631.59,132.98 C632.00,132.40 632.41,131.83 632.83,131.26 C633.24,130.69 633.65,130.13 634.07,129.58 C634.48,129.02 634.89,128.47 635.30,127.93 C635.72,127.38 636.13,126.84 636.54,126.31 C636.95,125.78 637.37,125.25 637.78,124.73 C638.19,124.21 638.60,123.69 639.01,123.18 C639.43,122.67 639.84,122.16 640.25,121.66 C640.67,121.16 641.08,120.66 641.49,120.17 C641.90,119.68 642.31,119.20 642.73,118.72 C643.14,118.24 643.55,117.76 643.97,117.29 C644.38,116.82 644.79,116.35 645.20,115.89 C645.62,115.43 646.03,114.97 646.44,114.52 C646.85,114.07 647.26,113.62 647.68,113.18 C648.09,112.74 648.50,112.30 648.91,111.87 C649.33,111.44 649.74,111.01 650.15,110.58 C650.57,110.16 650.98,109.74 651.39,109.32 C651.80,108.91 652.22,108.50 652.63,108.09 C653.04,107.68 653.45,107.28 653.87,106.88 C654.28,106.48 654.69,106.09 655.10,105.70 C655.51,105.31 655.93,104.92 656.34,104.54 C656.75,104.16 657.16,103.78 657.58,103.40 C657.99,103.03 658.40,102.66 658.82,102.29 C659.23,101.92 659.64,101.56 660.05,101.20 C660.47,100.84 660.88,100.49 661.29,100.13 C661.70,99.78 662.12,99.43 662.53,99.09 C662.94,98.74 663.35,98.40 663.76,98.06 C664.18,97.73 664.59,97.39 665.00,97.06 C665.42,96.73 665.83,96.40 666.24,96.08 C666.65,95.76 667.06,95.44 667.48,95.12 C667.89,94.80 668.30,94.49 668.72,94.18 C669.13,93.86 669.54,93.56 669.95,93.25 C670.37,92.95 670.78,92.65 671.19,92.35 C671.60,92.05 672.01,91.76 672.43,91.46 C672.84,91.17 673.25,90.88 673.66,90.60 C674.08,90.31 674.49,90.03 674.90,89.75 C675.32,89.47 675.73,89.19 676.14,88.92 C676.55,88.64 676.97,88.37 677.38,88.10 C677.79,87.83 678.20,87.57 678.62,87.30 C679.03,87.04 679.44,86.78 679.85,86.52 C680.26,86.26 680.68,86.01 681.09,85.76 C681.50,85.50 681.91,85.25 682.33,85.01 C682.74,84.76 683.15,84.51 683.57,84.27 C683.98,84.03 684.39,83.79 684.80,83.55 C685.22,83.31 685.63,83.08 686.04,82.85 C686.45,82.61 686.87,82.38 687.28,82.16 C687.69,81.93 688.10,81.70 688.51,81.48 C688.93,81.26 689.34,81.04 689.75,80.82 C690.17,80.60 690.58,80.38 690.99,80.17 C691.40,79.96 691.81,79.74 692.23,79.53 C692.64,79.33 693.05,79.12 693.47,78.91 C693.88,78.71 694.29,78.50 694.70,78.30 C695.12,78.10 695.53,77.90 695.94,77.71 C696.35,77.51 696.76,77.31 697.18,77.12 C697.59,76.93 698.00,76.74 698.41,76.55 C698.83,76.36 699.24,76.17 699.65,75.99 C700.07,75.80 700.48,75.62 700.89,75.44 C701.30,75.26 701.72,75.08 702.13,74.90 C702.54,74.72 702.95,74.55 703.37,74.37 C703.78,74.20 704.19,74.03 704.60,73.86 C705.01,73.69 705.43,73.52 705.84,73.35 C706.25,73.19 706.66,73.02 707.08,72.86 C707.49,72.69 707.90,72.53 708.32,72.37 C708.73,72.21 709.14,72.05 709.55,71.90 C709.97,71.74 710.38,71.59 710.79,71.43 C711.20,71.28 711.62,71.13 712.03,70.98 C712.44,70.83 712.85,70.68 713.26,70.53 C713.68,70.38 714.09,70.24 714.50,70.09 C714.92,69.95 715.33,69.81 715.74,69.66 C716.15,69.52 716.56,69.38 716.98,69.24 C717.39,69.11 717.80,68.97 718.22,68.83 C718.63,68.70 719.04,68.56 719.45,68.43 C719.87,68.30 720.28,68.17 720.69,68.04 C721.10,67.91 721.51,67.78 721.93,67.65 C722.34,67.52 722.75,67.40 723.16,67.27 C723.58,67.15 723.99,67.03 724.40,66.90 C724.82,66.78 725.23,66.66 725.64,66.54 C726.05,66.42 726.47,66.30 726.88,66.19 C727.29,66.07 727.70,65.95 728.12,65.84 C728.53,65.72 728.94,65.61 729.35,65.50 C729.76,65.38 730.18,65.27 730.59,65.16 C731.00,65.05 731.41,64.94 731.83,64.84 C732.24,64.73 732.65,64.62 733.07,64.52 C733.48,64.41 733.89,64.31 734.30,64.20 C734.72,64.10 735.13,64.00 735.54,63.89 C735.95,63.79 736.37,63.69 736.78,63.59 C737.19,63.49 737.60,63.40 738.01,63.30 C738.43,63.20 738.84,63.11 739.25,63.01 C739.67,62.91 740.08,62.82 740.49,62.73 C740.90,62.63 741.31,62.54 741.73,62.45 C742.14,62.36 742.55,62.27 742.97,62.18 C743.38,62.09 743.79,62.00 744.20,61.91 C744.62,61.83 745.03,61.74 745.44,61.65 C745.85,61.57 746.26,61.48 746.68,61.40 C747.09,61.31 747.50,61.23 747.91,61.15 C748.33,61.07 748.74,60.98 749.15,60.90 C749.57,60.82 749.98,60.74 750.39,60.66 C750.80,60.59 751.22,60.51 751.63,60.43 C752.04,60.35 752.45,60.28 752.87,60.20 C753.28,60.12 753.69,60.05 754.10,59.97 C754.51,59.90 754.93,59.83 755.34,59.75 C755.75,59.68 756.16,59.61 756.58,59.54 C756.99,59.47 757.40,59.40 757.82,59.33 C758.23,59.26 758.85,59.15 759.05,59.12" fill="none" stroke="#0a5f27" stroke-width="1.8"/>
<path d="M586.20,237.40 L592.90,244.10 L586.20,250.80 L579.50,244.10 Z" fill="none" stroke="#0a5f27" stroke-width="2.5" stroke-linejoin="miter"/>
<path d="M588.60,218.30 L595.30,225.00 L588.60,231.70 L581.90,225.00 Z" fill="none" stroke="#0a5f27" stroke-width="2.5" stroke-linejoin="miter"/>
<path d="M591.70,201.20 L598.40,207.90 L591.70,214.60 L585.00,207.90 Z" fill="none" stroke="#0a5f27" stroke-width="2.5" stroke-linejoin="miter"/>
<path d="M593.90,200.30 L600.60,207.00 L593.90,213.70 L587.20,207.00 Z" fill="none" stroke="#0a5f27" stroke-width="2.5" stroke-linejoin="miter"/>
<path d="M596.00,199.50 L602.70,206.20 L596.00,212.90 L589.30,206.20 Z" fill="none" stroke="#0a5f27" stroke-width="2.5" stroke-linejoin="miter"/>
<path d="M601.20,180.70 L607.90,187.40 L601.20,194.10 L594.50,187.40 Z" fill="none" stroke="#0a5f27" stroke-width="2.5" stroke-linejoin="miter"/>
<path d="M606.30,176.40 L613.00,183.10 L606.30,189.80 L599.60,183.10 Z" fill="none" stroke="#0a5f27" stroke-width="2.5" stroke-linejoin="miter"/>
<path d="M610.70,165.70 L617.40,172.40 L610.70,179.10 L604.00,172.40 Z" fill="none" stroke="#0a5f27" stroke-width="2.5" stroke-linejoin="miter"/>
<path d="M624.90,135.00 L631.60,141.70 L624.90,148.40 L618.20,141.70 Z" fill="none" stroke="#0a5f27" stroke-width="2.5" stroke-linejoin="miter"/>
<path d="M640.40,107.30 L647.10,114.00 L640.40,120.70 L633.70,114.00 Z" fill="none" stroke="#0a5f27" stroke-width="2.5" stroke-linejoin="miter"/>
<path d="M655.10,94.40 L661.80,101.10 L655.10,107.80 L648.40,101.10 Z" fill="none" stroke="#0a5f27" stroke-width="2.5" stroke-linejoin="miter"/>
<path d="M684.60,78.60 L691.30,85.30 L684.60,92.00 L677.90,85.30 Z" fill="none" stroke="#0a5f27" stroke-width="2.5" stroke-linejoin="miter"/>
<path d="M714.50,68.40 L721.20,75.10 L714.50,81.80 L707.80,75.10 Z" fill="none" stroke="#0a5f27" stroke-width="2.5" stroke-linejoin="miter"/>
<path d="M759.10,52.65 L765.80,59.35 L759.10,66.05 L752.40,59.35 Z" fill="none" stroke="#0a5f27" stroke-width="2.5" stroke-linejoin="miter"/>
<rect x="650.60" y="142.40" width="118.90" height="87.70" fill="#fff" stroke="#3a3a3a" stroke-width="1.0"/>
<line x1="654.80" y1="230.10" x2="654.80" y2="232.30" stroke="#3a3a3a" stroke-width="0.9"/>
<line x1="673.90" y1="230.10" x2="673.90" y2="231.50" stroke="#3a3a3a" stroke-width="0.9"/>
<line x1="693.00" y1="230.10" x2="693.00" y2="232.30" stroke="#3a3a3a" stroke-width="0.9"/>
<line x1="712.10" y1="230.10" x2="712.10" y2="231.50" stroke="#3a3a3a" stroke-width="0.9"/>
<line x1="731.20" y1="230.10" x2="731.20" y2="232.30" stroke="#3a3a3a" stroke-width="0.9"/>
<line x1="750.30" y1="230.10" x2="750.30" y2="231.50" stroke="#3a3a3a" stroke-width="0.9"/>
<line x1="769.40" y1="230.10" x2="769.40" y2="232.30" stroke="#3a3a3a" stroke-width="0.9"/>
<line x1="648.40" y1="157.00" x2="650.60" y2="157.00" stroke="#3a3a3a" stroke-width="0.9"/>
<line x1="649.20" y1="171.75" x2="650.60" y2="171.75" stroke="#3a3a3a" stroke-width="0.9"/>
<line x1="648.40" y1="186.50" x2="650.60" y2="186.50" stroke="#3a3a3a" stroke-width="0.9"/>
<line x1="649.20" y1="201.25" x2="650.60" y2="201.25" stroke="#3a3a3a" stroke-width="0.9"/>
<line x1="648.40" y1="216.00" x2="650.60" y2="216.00" stroke="#3a3a3a" stroke-width="0.9"/>
<line x1="656.0" y1="150.4" x2="757.8" y2="224.7" stroke="#0a5f27" stroke-width="1.35"/>
<path d="M658.20,147.20 L661.20,150.20 L658.20,153.20 L655.20,150.20 Z" fill="#fff" fill-opacity="0" stroke="#0a5f27" stroke-width="1.1"/>
<path d="M660.30,150.30 L663.30,153.30 L660.30,156.30 L657.30,153.30 Z" fill="#fff" fill-opacity="0" stroke="#0a5f27" stroke-width="1.1"/>
<path d="M661.80,151.80 L664.80,154.80 L661.80,157.80 L658.80,154.80 Z" fill="#fff" fill-opacity="0" stroke="#0a5f27" stroke-width="1.1"/>
<path d="M663.30,152.80 L666.30,155.80 L663.30,158.80 L660.30,155.80 Z" fill="#fff" fill-opacity="0" stroke="#0a5f27" stroke-width="1.1"/>
<path d="M665.20,153.70 L668.20,156.70 L665.20,159.70 L662.20,156.70 Z" fill="#fff" fill-opacity="0" stroke="#0a5f27" stroke-width="1.1"/>
<path d="M667.20,154.70 L670.20,157.70 L667.20,160.70 L664.20,157.70 Z" fill="#fff" fill-opacity="0" stroke="#0a5f27" stroke-width="1.1"/>
<path d="M669.20,158.20 L672.20,161.20 L669.20,164.20 L666.20,161.20 Z" fill="#fff" fill-opacity="0" stroke="#0a5f27" stroke-width="1.1"/>
<path d="M674.60,158.70 L677.60,161.70 L674.60,164.70 L671.60,161.70 Z" fill="#fff" fill-opacity="0" stroke="#0a5f27" stroke-width="1.1"/>
<path d="M678.50,161.60 L681.50,164.60 L678.50,167.60 L675.50,164.60 Z" fill="#fff" fill-opacity="0" stroke="#0a5f27" stroke-width="1.1"/>
<path d="M689.00,171.00 L692.00,174.00 L689.00,177.00 L686.00,174.00 Z" fill="#fff" fill-opacity="0" stroke="#0a5f27" stroke-width="1.1"/>
<path d="M699.90,183.70 L702.90,186.70 L699.90,189.70 L696.90,186.70 Z" fill="#fff" fill-opacity="0" stroke="#0a5f27" stroke-width="1.1"/>
<path d="M711.30,190.90 L714.30,193.90 L711.30,196.90 L708.30,193.90 Z" fill="#fff" fill-opacity="0" stroke="#0a5f27" stroke-width="1.1"/>
<path d="M734.90,205.40 L737.90,208.40 L734.90,211.40 L731.90,208.40 Z" fill="#fff" fill-opacity="0" stroke="#0a5f27" stroke-width="1.1"/>
<path d="M758.10,220.30 L761.10,223.30 L758.10,226.30 L755.10,223.30 Z" fill="#fff" fill-opacity="0" stroke="#0a5f27" stroke-width="1.1"/>
<text x="-0.30" y="13.70" font-size="17.50" text-anchor="start" textLength="24.70" lengthAdjust="spacingAndGlyphs" fill="#1a1a1a" stroke="#1a1a1a" stroke-width="0.1">(A)</text>
<text x="262.45" y="13.70" font-size="17.50" text-anchor="start" textLength="26.36" lengthAdjust="spacingAndGlyphs" fill="#1a1a1a" stroke="#1a1a1a" stroke-width="0.1">(B)</text>
<text x="537.35" y="14.00" font-size="17.50" text-anchor="start" textLength="26.05" lengthAdjust="spacingAndGlyphs" fill="#1a1a1a" stroke="#1a1a1a" stroke-width="0.1">(C)</text>
<text x="25.95" y="279.65" font-size="14.60" text-anchor="middle" textLength="24.57" lengthAdjust="spacingAndGlyphs" fill="#1a1a1a" stroke="#1a1a1a" stroke-width="0.1">300</text>
<text x="95.45" y="279.65" font-size="14.60" text-anchor="middle" textLength="25.63" lengthAdjust="spacingAndGlyphs" fill="#1a1a1a" stroke="#1a1a1a" stroke-width="0.1">500</text>
<text x="165.00" y="279.65" font-size="14.60" text-anchor="middle" textLength="25.04" lengthAdjust="spacingAndGlyphs" fill="#1a1a1a" stroke="#1a1a1a" stroke-width="0.1">700</text>
<text x="234.55" y="279.65" font-size="14.60" text-anchor="middle" textLength="23.93" lengthAdjust="spacingAndGlyphs" fill="#1a1a1a" stroke="#1a1a1a" stroke-width="0.1">900</text>
<text x="291.95" y="279.65" font-size="14.60" text-anchor="middle" textLength="24.57" lengthAdjust="spacingAndGlyphs" fill="#1a1a1a" stroke="#1a1a1a" stroke-width="0.1">300</text>
<text x="343.50" y="279.65" font-size="14.60" text-anchor="middle" textLength="23.79" lengthAdjust="spacingAndGlyphs" fill="#1a1a1a" stroke="#1a1a1a" stroke-width="0.1">400</text>
<text x="396.00" y="279.65" font-size="14.60" text-anchor="middle" textLength="24.82" lengthAdjust="spacingAndGlyphs" fill="#1a1a1a" stroke="#1a1a1a" stroke-width="0.1">500</text>
<text x="447.55" y="279.65" font-size="14.60" text-anchor="middle" textLength="24.27" lengthAdjust="spacingAndGlyphs" fill="#1a1a1a" stroke="#1a1a1a" stroke-width="0.1">600</text>
<text x="499.00" y="279.65" font-size="14.60" text-anchor="middle" textLength="25.03" lengthAdjust="spacingAndGlyphs" fill="#1a1a1a" stroke="#1a1a1a" stroke-width="0.1">700</text>
<text x="581.40" y="280.25" font-size="14.60" text-anchor="middle" textLength="7.98" lengthAdjust="spacingAndGlyphs" fill="#1a1a1a" stroke="#1a1a1a" stroke-width="0.1">0</text>
<text x="631.00" y="280.35" font-size="14.60" text-anchor="middle" textLength="24.18" lengthAdjust="spacingAndGlyphs" fill="#1a1a1a" stroke="#1a1a1a" stroke-width="0.1">100</text>
<text x="680.45" y="280.35" font-size="14.60" text-anchor="middle" textLength="24.13" lengthAdjust="spacingAndGlyphs" fill="#1a1a1a" stroke="#1a1a1a" stroke-width="0.1">200</text>
<text x="730.50" y="280.35" font-size="14.60" text-anchor="middle" textLength="24.66" lengthAdjust="spacingAndGlyphs" fill="#1a1a1a" stroke="#1a1a1a" stroke-width="0.1">300</text>
<text x="779.50" y="280.35" font-size="14.60" text-anchor="middle" textLength="22.60" lengthAdjust="spacingAndGlyphs" fill="#1a1a1a" stroke="#1a1a1a" stroke-width="0.1">400</text>
<text x="565.35" y="250.90" font-size="14.60" text-anchor="end" textLength="29.80" lengthAdjust="spacingAndGlyphs" fill="#1a1a1a" stroke="#1a1a1a" stroke-width="0.1">0.00</text>
<text x="566.35" y="191.00" font-size="14.60" text-anchor="end" textLength="29.83" lengthAdjust="spacingAndGlyphs" fill="#1a1a1a" stroke="#1a1a1a" stroke-width="0.1">0.02</text>
<text x="565.35" y="129.75" font-size="14.60" text-anchor="end" textLength="29.80" lengthAdjust="spacingAndGlyphs" fill="#1a1a1a" stroke="#1a1a1a" stroke-width="0.1">0.04</text>
<text x="565.05" y="69.85" font-size="14.60" text-anchor="end" textLength="28.17" lengthAdjust="spacingAndGlyphs" fill="#1a1a1a" stroke="#1a1a1a" stroke-width="0.1">0.06</text>
<text x="131.50" y="300.25" font-size="14.00" text-anchor="middle" textLength="112.37" lengthAdjust="spacingAndGlyphs" fill="#1a1a1a" stroke="#1a1a1a" stroke-width="0.1">Wavelength (nm)</text>
<text x="396.45" y="300.35" font-size="14.00" text-anchor="middle" textLength="110.80" lengthAdjust="spacingAndGlyphs" fill="#1a1a1a" stroke="#1a1a1a" stroke-width="0.1">Wavelength (nm)</text>
<text x="682.00" y="302.25" font-size="14.20" text-anchor="middle" textLength="68.31" lengthAdjust="spacingAndGlyphs" fill="#1a1a1a" stroke="#1a1a1a" stroke-width="0.1">Time (min)</text>
<text x="18.25" y="143.00" font-size="14.60" text-anchor="middle" textLength="78.33" lengthAdjust="spacingAndGlyphs" transform="rotate(-90 18.25 143.00)" fill="#1a1a1a" stroke="#1a1a1a" stroke-width="0.1">Absorbance</text>
<text x="285.30" y="143.95" font-size="14.60" text-anchor="middle" textLength="78.42" lengthAdjust="spacingAndGlyphs" transform="rotate(-90 285.30 143.95)" fill="#1a1a1a" stroke="#1a1a1a" stroke-width="0.1">Absorbance</text>
<text x="529.55" y="143.05" font-size="14.60" text-anchor="middle" textLength="146.95" lengthAdjust="spacingAndGlyphs" transform="rotate(-90 529.55 143.05)" fill="#1a1a1a" stroke="#1a1a1a" stroke-width="0.1">Absorbance at 457 nm</text>
<text x="230.70" y="105.45" font-size="14.80" text-anchor="end" textLength="43.55" lengthAdjust="spacingAndGlyphs" fill="#1a1a1a" stroke="#1a1a1a" stroke-width="0.1">250 <tspan>°</tspan><tspan dx="-0.1em">C</tspan></text>
<text x="230.70" y="140.90" font-size="14.80" text-anchor="end" textLength="43.55" lengthAdjust="spacingAndGlyphs" fill="#1a1a1a" stroke="#1a1a1a" stroke-width="0.1">200 <tspan>°</tspan><tspan dx="-0.1em">C</tspan></text>
<text x="231.20" y="177.00" font-size="14.80" text-anchor="end" textLength="42.49" lengthAdjust="spacingAndGlyphs" fill="#1a1a1a" stroke="#1a1a1a" stroke-width="0.1">150 <tspan>°</tspan><tspan dx="-0.1em">C</tspan></text>
<text x="231.20" y="212.00" font-size="14.80" text-anchor="end" textLength="42.49" lengthAdjust="spacingAndGlyphs" fill="#1a1a1a" stroke="#1a1a1a" stroke-width="0.1">130 <tspan>°</tspan><tspan dx="-0.1em">C</tspan></text>
<text x="222.50" y="246.75" font-size="14.80" text-anchor="end" textLength="20.66" lengthAdjust="spacingAndGlyphs" fill="#1a1a1a" stroke="#1a1a1a" stroke-width="0.1">RT</text>
<text x="493.70" y="106.45" font-size="14.80" text-anchor="end" textLength="42.90" lengthAdjust="spacingAndGlyphs" fill="#1a1a1a" stroke="#1a1a1a" stroke-width="0.1">120 <tspan>°</tspan><tspan dx="-0.1em">C</tspan></text>
<text x="493.00" y="142.00" font-size="14.80" text-anchor="end" textLength="34.06" lengthAdjust="spacingAndGlyphs" fill="#1a1a1a" stroke="#1a1a1a" stroke-width="0.1">90 <tspan>°</tspan><tspan dx="-0.1em">C</tspan></text>
<text x="493.30" y="178.10" font-size="14.80" text-anchor="end" textLength="33.44" lengthAdjust="spacingAndGlyphs" fill="#1a1a1a" stroke="#1a1a1a" stroke-width="0.1">70 <tspan>°</tspan><tspan dx="-0.1em">C</tspan></text>
<text x="492.55" y="214.65" font-size="14.80" text-anchor="end" textLength="18.49" lengthAdjust="spacingAndGlyphs" fill="#1a1a1a" stroke="#1a1a1a" stroke-width="0.1">RT</text>
<text x="376.50" y="45.40" font-size="16.30" text-anchor="start" textLength="75.68" lengthAdjust="spacingAndGlyphs" fill="#422c0c" stroke="#422c0c" stroke-width="0.55" filter="url(#glowO)">InAs MSC</text>
<text x="335.50" y="248.45" font-size="16.80" text-anchor="start" textLength="83.48" lengthAdjust="spacingAndGlyphs" fill="#0e2c0c" stroke="#0e2c0c" stroke-width="0.55" filter="url(#glowG)">InAs AMCs</text>
<text x="583.35" y="36.60" font-size="14.80" text-anchor="start" textLength="125.17" lengthAdjust="spacingAndGlyphs" fill="#1a1a1a" stroke="#1a1a1a" stroke-width="0.1">[1<tspan font-size="9.2px" dy="-5.6">st</tspan><tspan dy="5.6"> order kinetics]</tspan></text>
<text x="584.50" y="53.35" font-size="13.00" text-anchor="start" textLength="168.78" lengthAdjust="spacingAndGlyphs" fill="#1a1a1a" stroke="#1a1a1a" stroke-width="0.1">y=0.065-0.065exp(-0.0083t)</text>
<text x="583.35" y="69.55" font-size="14.00" text-anchor="start" textLength="50.22" lengthAdjust="spacingAndGlyphs" fill="#1a1a1a" stroke="#1a1a1a" stroke-width="0.1">R<tspan font-size="8.6px" dy="-4.3">2</tspan><tspan dy="4.3">=0.99</tspan></text>
<text x="655.45" y="241.60" font-size="10.20" text-anchor="middle" textLength="5.91" lengthAdjust="spacingAndGlyphs" fill="#1a1a1a" stroke="#1a1a1a" stroke-width="0.1">0</text>
<text x="692.55" y="241.60" font-size="10.20" text-anchor="middle" textLength="17.99" lengthAdjust="spacingAndGlyphs" fill="#1a1a1a" stroke="#1a1a1a" stroke-width="0.1">100</text>
<text x="731.55" y="241.60" font-size="10.20" text-anchor="middle" textLength="17.38" lengthAdjust="spacingAndGlyphs" fill="#1a1a1a" stroke="#1a1a1a" stroke-width="0.1">200</text>
<text x="768.55" y="241.60" font-size="10.20" text-anchor="middle" textLength="17.59" lengthAdjust="spacingAndGlyphs" fill="#1a1a1a" stroke="#1a1a1a" stroke-width="0.1">300</text>
<text x="646.90" y="162.85" font-size="10.40" text-anchor="end" textLength="10.50" lengthAdjust="spacingAndGlyphs" fill="#1a1a1a" stroke="#1a1a1a" stroke-width="0.1">-3</text>
<text x="646.90" y="190.60" font-size="10.40" text-anchor="end" textLength="10.49" lengthAdjust="spacingAndGlyphs" fill="#1a1a1a" stroke="#1a1a1a" stroke-width="0.1">-4</text>
<text x="647.20" y="220.70" font-size="10.40" text-anchor="end" textLength="11.43" lengthAdjust="spacingAndGlyphs" fill="#1a1a1a" stroke="#1a1a1a" stroke-width="0.1">-5</text>
<text x="709.90" y="252.60" font-size="10.00" text-anchor="middle" textLength="50.12" lengthAdjust="spacingAndGlyphs" fill="#1a1a1a" stroke="#1a1a1a" stroke-width="0.1">Time (min)</text>
<text x="634.70" y="187.50" font-size="11.00" text-anchor="middle" textLength="40.96" lengthAdjust="spacingAndGlyphs" transform="rotate(-90 634.70 187.50)" fill="#1a1a1a" stroke="#1a1a1a" stroke-width="0.1">ln(A<tspan font-size="7.5px" dy="2.6">o</tspan><tspan dy="-2.6">-A)</tspan></text>
</svg></body></html>
